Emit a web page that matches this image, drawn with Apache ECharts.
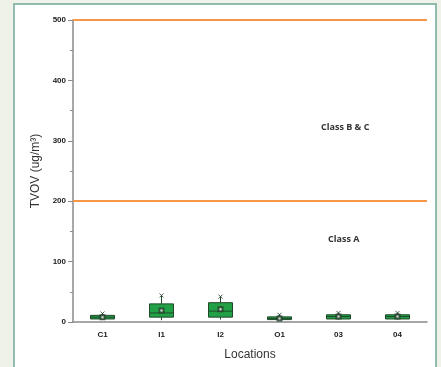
<!DOCTYPE html>
<html lang="en">
<head>
  <meta charset="UTF-8">
  <title>TVOV by location</title>
  <script src="https://cdn.jsdelivr.net/npm/echarts@6/dist/echarts.min.js"></script>
  <style>
    body { margin: 0; background: #eef2e9; }
    #frame { position: absolute; left: 13px; top: 3px; width: 420px; height: 362px;
             background: #fff; border: 2px solid #8fbcac; border-bottom: none; }
    #main { width: 420px; height: 362px; }
  </style>
</head>
<body>
<div id="frame"><div id="main"></div></div>
<script>
  // categories and box stats [min, Q1, median, Q3, max]
  var locations = ['C1', 'I1', 'I2', 'O1', '03', '04'];
  var boxStats = [
    [4, 5, 8, 11, 14],
    [3, 8, 15, 30, 44],
    [4, 8, 18, 32, 42],
    [3, 4, 6, 8.5, 12],
    [4, 5, 9, 12, 15],
    [4, 5, 9, 12, 15]
  ];
  var means = [8, 19, 21, 6, 9, 9];
  var maxMarks = [14, 44, 42, 12, 15, 15];
  var limits = [200, 500]; // class A, class B & C
  var yTicks = [0, 100, 200, 300, 400, 500];

  var myChart = echarts.init(document.getElementById('main'));

  var xPath = 'path://M0,0L10,10M10,0L0,10';

  // box without whisker caps
  function renderBox(params, api) {
    var i = api.value(0);
    var lo = api.coord([i, api.value(1)]);
    var q1 = api.coord([i, api.value(2)]);
    var md = api.coord([i, api.value(3)]);
    var q3 = api.coord([i, api.value(4)]);
    var hi = api.coord([i, api.value(5)]);
    var w = 24, x = lo[0];
    var stroke = { stroke: '#1f4a2a', lineWidth: 1 };
    return {
      type: 'group',
      children: [
        { type: 'line', shape: { x1: x, y1: lo[1], x2: x, y2: q1[1] }, style: stroke },
        { type: 'line', shape: { x1: x, y1: q3[1], x2: x, y2: hi[1] }, style: stroke },
        { type: 'rect', shape: { x: x - w / 2, y: q3[1], width: w, height: q1[1] - q3[1] },
          style: { fill: '#22a046', stroke: '#1f4a2a', lineWidth: 1 } },
        { type: 'line', shape: { x1: x - w / 2, y1: md[1], x2: x + w / 2, y2: md[1] }, style: stroke }
      ]
    };
  }

  var option = {
    animation: false,
    grid: { left: 58, top: 15, right: 8, bottom: 45 },
    xAxis: {
      type: 'category',
      data: locations,
      name: 'Locations',
      nameLocation: 'middle',
      nameGap: 27,
      nameTextStyle: { fontFamily: 'Liberation Sans', fontSize: 12, color: '#333' },
      axisLine: { lineStyle: { color: '#8a8a8a', width: 1.5 } },
      axisTick: { alignWithLabel: true, length: 4, lineStyle: { color: '#8a8a8a' } },
      axisLabel: { fontFamily: 'Liberation Sans', fontWeight: 'bold', fontSize: 8, color: '#222', margin: 9 }
    },
    yAxis: {
      type: 'value',
      min: yTicks[0],
      max: yTicks[yTicks.length - 1],
      interval: 100,
      name: 'TVOV (ug/m³)',
      nameLocation: 'middle',
      nameGap: 28,
      nameTextStyle: { fontFamily: 'Liberation Sans', fontSize: 12, color: '#333' },
      axisLine: { show: true, lineStyle: { color: '#8a8a8a', width: 1.5 } },
      axisTick: { show: true, length: 5, lineStyle: { color: '#8a8a8a' } },
      minorTick: { show: true, splitNumber: 2, length: 3, lineStyle: { color: '#8a8a8a' } },
      splitLine: { show: false },
      axisLabel: { fontFamily: 'Liberation Sans', fontWeight: 'bold', fontSize: 8, color: '#222', margin: 7 }
    },
    graphic: [
      { type: 'text', left: 306, top: 118,
        style: { text: 'Class B & C', font: 'bold 9px "Open Sans"', fill: '#333' } },
      { type: 'text', left: 313, top: 230,
        style: { text: 'Class A', font: 'bold 9px "Open Sans"', fill: '#333' } }
    ],
    series: [
      {
        type: 'custom',
        renderItem: renderBox,
        data: boxStats.map(function (b, i) { return [i].concat(b); }),
        encode: { x: 0, y: [1, 2, 3, 4, 5] },
        markLine: {
          symbol: 'none',
          silent: true,
          label: { show: false },
          lineStyle: { color: '#f79646', width: 2, type: 'solid' },
          data: limits.map(function (v) { return { yAxis: v }; })
        }
      },
      {
        type: 'scatter',
        data: means,
        symbol: 'emptyRect',
        symbolSize: 4,
        itemStyle: { color: '#1f3a25' }
      },
      {
        type: 'scatter',
        data: maxMarks,
        symbol: xPath,
        symbolSize: 4,
        itemStyle: { color: '#1f3a25', borderColor: '#1f3a25', borderWidth: 1 }
      }
    ]
  };

  myChart.setOption(option);
</script>
</body>
</html>
